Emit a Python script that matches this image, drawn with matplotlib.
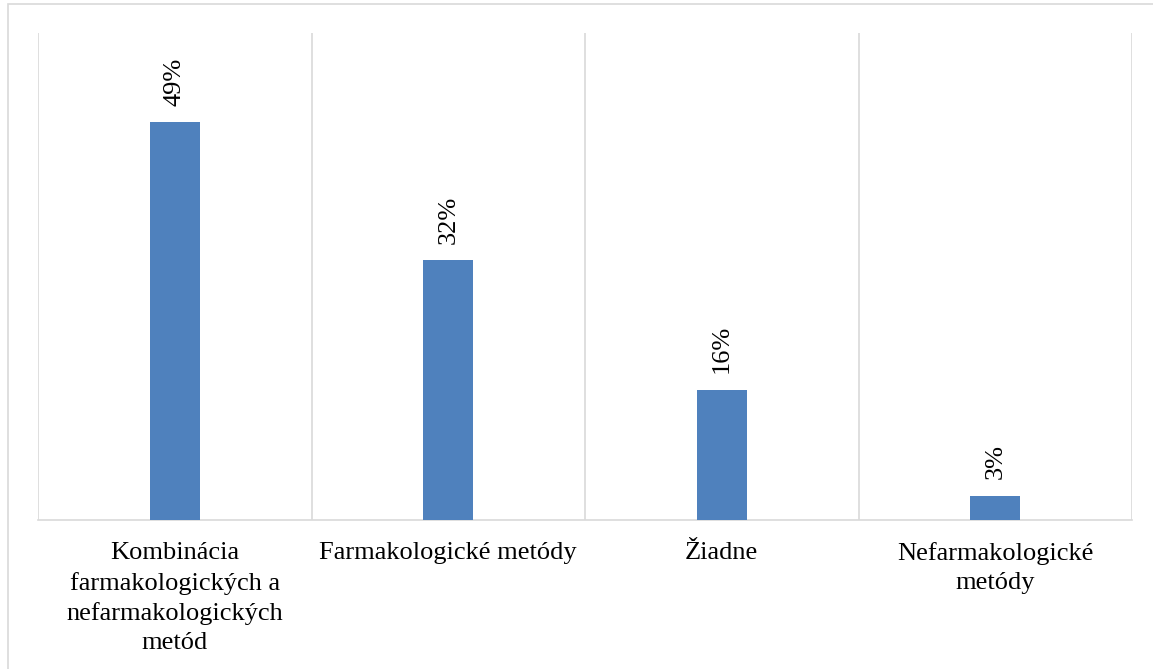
import matplotlib.pyplot as plt
from matplotlib.patches import Rectangle

# data
categories = ['Kombinácia\nfarmakologických a\nnefarmakologických\nmetód',
              'Farmakologické metódy',
              'Žiadne',
              'Nefarmakologické\nmetódy']
values = [0.49, 0.32, 0.16, 0.03]
value_labels = ['49%', '32%', '16%', '3%']

plt.rcParams['font.family'] = ['Liberation Serif', 'DejaVu Serif']

fig = plt.figure(figsize=(11.53, 6.69), dpi=100)
ax = fig.add_axes([38 / 1153, 1 - 520 / 669, (1132 - 38) / 1153, (520 - 33) / 669])

x = range(len(categories))
bars = ax.bar(x, values, width=0.183, color='#4f81bd', zorder=3)

ax.set_xlim(-0.5, len(categories) - 0.5)
ax.set_ylim(0, 0.6)

# category separators
for b in range(len(categories) + 1):
    ax.axvline(b - 0.5, color='#d9d9d9', lw=1.2, zorder=1)

for bar, lab in zip(bars, value_labels):
    ax.annotate(lab, (bar.get_x() + bar.get_width() / 2, bar.get_height()),
                xytext=(0, 12), textcoords='offset points',
                ha='center', va='bottom', rotation=90, fontsize=19)

ax.set_xticks(list(x))
ax.set_xticklabels(categories, fontsize=19, linespacing=1.42, va='top')
ax.tick_params(axis='x', length=0, pad=16)
ax.set_yticks([])

for s in ['top', 'right', 'left']:
    ax.spines[s].set_visible(False)
ax.spines['bottom'].set_color('#d9d9d9')
ax.spines['bottom'].set_linewidth(1.2)

# outer chart border
fig.patches.append(Rectangle((8 / 1153, -0.05), 1.2, 1 - 4 / 669 + 0.05,
                             transform=fig.transFigure, fill=False,
                             edgecolor='#d9d9d9', lw=1.2))

fig.savefig('out.png', dpi=100)
